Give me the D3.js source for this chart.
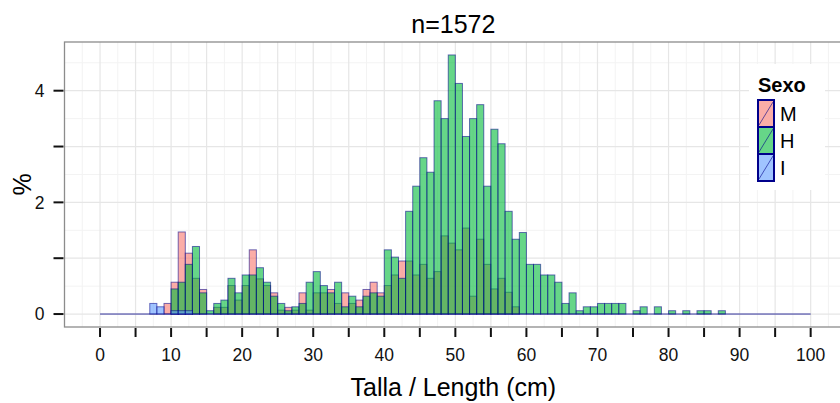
<!DOCTYPE html>
<html>
<head>
<meta charset="utf-8">
<script src="https://cdn.jsdelivr.net/npm/d3@7"></script>
<style>
  html, body { margin: 0; padding: 0; background: #fff; }
  svg { display: block; font-family: "Liberation Sans", Arial, sans-serif; }
</style>
</head>
<body>
<svg id="chart" width="840" height="403"></svg>
<script>
// ---- data (percent of n = 1572, 1 cm bins starting at 0..99) ----
const title = "n=1572";
const xLabel = "Talla / Length (cm)";
const yLabel = "%";
const legendTitle = "Sexo";
const seriesNames = ["M", "H", "I"];
const seriesColors = ["#F8766D", "#00BA38", "#619CFF"];
const binStarts = d3.range(0, 100);

const valuesM = [
  0,0,0,0,0,0,0,0,0,0.19,
  0.57,1.47,1.09,0.64,0.44,0,0.12,0.12,0.51,0.25,
  0.51,1.15,0.63,0.51,0.38,0.07,0.12,0.07,0.38,0.07,
  0.38,0.38,0.44,0.19,0.38,0.19,0.25,0.44,0.57,0.38,
  0.51,0.70,0.95,0.95,0.70,0.89,0.64,0.76,1.40,1.27,
  1.15,1.54,0.32,1.34,0.89,0.45,0.64,0.39,0.13,0,
  0,0,0,0,0,0,0,0,0,0,
  0,0,0,0,0,0,0,0,0,0,
  0,0,0,0,0,0,0,0,0,0,
  0,0,0,0,0,0,0,0,0,0
];
const valuesH = [
  0,0,0,0,0,0,0,0,0,0,
  0.45,0.57,0.89,1.21,0.38,0.06,0.19,0.25,0.64,0.38,
  0.70,0.70,0.83,0.57,0.32,0.19,0.06,0.13,0.19,0.57,
  0.76,0.51,0.38,0.57,0.13,0.32,0.13,0.32,0.38,0.32,
  1.15,1.02,0.64,1.84,2.29,2.80,2.54,3.82,3.50,4.64,
  4.13,3.18,3.50,3.75,2.29,3.31,3.05,1.84,1.34,1.46,
  0.89,0.89,0.70,0.70,0.57,0.19,0.38,0.06,0.13,0.13,
  0.19,0.19,0.19,0.19,0,0.06,0.13,0,0.13,0,
  0.06,0,0.06,0,0.06,0.06,0,0.06,0,0,
  0,0,0,0,0,0,0,0,0,0
];
const valuesI = [
  0,0,0,0,0,0,0,0.19,0.13,0,
  0.06,0.06,0.06,0,0,0,0,0,0,0,
  0,0,0,0,0,0,0,0,0,0,
  0,0,0,0,0,0,0,0,0,0,
  0,0,0,0,0,0,0,0,0,0,
  0,0,0,0,0,0,0,0,0,0,
  0,0,0,0,0,0,0,0,0,0,
  0,0,0,0,0,0,0,0,0,0,
  0,0,0,0,0,0,0,0,0,0,
  0,0,0,0,0,0,0,0,0,0
];
const xTickValues = d3.range(0, 101, 5);
const xTickLabels = d3.range(0, 101, 10);
const yTickValues = [0, 1, 2, 3, 4];
const yTickLabels = [0, 2, 4];

const seriesValues = [valuesM, valuesH, valuesI];

// ---- layout ----
const svg = d3.select("#chart");
const panel = { left: 64.5, right: 846.2, top: 42, bottom: 327 };
const x = d3.scaleLinear().domain([-5, 105]).range([panel.left, panel.right]);
const yMax = d3.max(valuesH);
const pad = yMax * 0.05;
const y = d3.scaleLinear().domain([-pad, yMax + pad]).range([panel.bottom, panel.top]);

const outline = "#00008B";
const fillOpacity = 0.6;

// panel background
svg.append("rect")
  .attr("x", panel.left).attr("y", panel.top)
  .attr("width", panel.right - panel.left).attr("height", panel.bottom - panel.top)
  .attr("fill", "#fff");

const grid = svg.append("g");
// minor grid
const xMinor = d3.range(-2.5, 105, 5);
const yMinor = d3.range(-0.5, 5, 1).map(d => d + 0); // half-steps
grid.selectAll("line.xminor").data(xMinor).enter().append("line")
  .attr("x1", d => x(d)).attr("x2", d => x(d))
  .attr("y1", panel.top).attr("y2", panel.bottom)
  .attr("stroke", "#F3F3F3").attr("stroke-width", 1);
grid.selectAll("line.yminor").data(d3.range(0.5, 5, 1)).enter().append("line")
  .attr("x1", panel.left).attr("x2", panel.right)
  .attr("y1", d => y(d)).attr("y2", d => y(d))
  .attr("stroke", "#F3F3F3").attr("stroke-width", 1);
// major grid
grid.selectAll("line.xmajor").data(xTickValues).enter().append("line")
  .attr("x1", d => x(d)).attr("x2", d => x(d))
  .attr("y1", panel.top).attr("y2", panel.bottom)
  .attr("stroke", "#E6E6E6").attr("stroke-width", 1.2);
grid.selectAll("line.ymajor").data(yTickValues).enter().append("line")
  .attr("x1", panel.left).attr("x2", panel.right)
  .attr("y1", d => y(d)).attr("y2", d => y(d))
  .attr("stroke", "#E6E6E6").attr("stroke-width", 1.2);

// bars
const barsG = svg.append("g");
seriesValues.forEach((vals, si) => {
  const g = barsG.append("g");
  const data = binStarts.map((b, i) => ({ b, v: vals[i] }));
  g.selectAll("rect").data(data.filter(d => d.v > 0)).enter().append("rect")
    .attr("x", d => x(d.b))
    .attr("width", d => x(d.b + 1) - x(d.b))
    .attr("y", d => y(d.v))
    .attr("height", d => y(0) - y(d.v))
    .attr("fill", seriesColors[si])
    .attr("fill-opacity", fillOpacity)
    .attr("stroke", outline)
    .attr("stroke-opacity", 0.55)
    .attr("stroke-width", 1);
  // zero-height bins show as a baseline outline
  g.append("line")
    .attr("x1", x(binStarts[0])).attr("x2", x(binStarts[binStarts.length - 1] + 1))
    .attr("y1", y(0)).attr("y2", y(0))
    .attr("stroke", outline).attr("stroke-opacity", 0.3).attr("stroke-width", 1);
});

// panel border
svg.append("rect")
  .attr("x", panel.left).attr("y", panel.top)
  .attr("width", panel.right - panel.left).attr("height", panel.bottom - panel.top)
  .attr("fill", "none").attr("stroke", "#8C8C8C").attr("stroke-width", 1.3);

// x axis ticks
const xAxis = svg.append("g");
xAxis.selectAll("line").data(xTickValues).enter().append("line")
  .attr("x1", d => x(d)).attr("x2", d => x(d))
  .attr("y1", panel.bottom + 1).attr("y2", panel.bottom + 10)
  .attr("stroke", "#111").attr("stroke-width", 2);
xAxis.selectAll("text").data(xTickLabels).enter().append("text")
  .attr("x", d => x(d)).attr("y", 361)
  .attr("text-anchor", "middle")
  .attr("font-size", 17.5).attr("fill", "#111")
  .text(d => d);

// y axis ticks
const yAxis = svg.append("g");
yAxis.selectAll("line").data(yTickValues).enter().append("line")
  .attr("x1", panel.left - 11).attr("x2", panel.left - 1)
  .attr("y1", d => y(d)).attr("y2", d => y(d))
  .attr("stroke", "#111").attr("stroke-width", 2);
yAxis.selectAll("text").data(yTickLabels).enter().append("text")
  .attr("x", panel.left - 20).attr("y", d => y(d))
  .attr("dy", "0.36em")
  .attr("text-anchor", "end")
  .attr("font-size", 17.5).attr("fill", "#111")
  .text(d => d);

// titles
const cx = (panel.left + panel.right) / 2;
svg.append("text").attr("x", cx - 2).attr("y", 33)
  .attr("text-anchor", "middle").attr("font-size", 25).attr("fill", "#000")
  .text(title);
svg.append("text").attr("x", cx - 2).attr("y", 396)
  .attr("text-anchor", "middle").attr("font-size", 25).attr("fill", "#000")
  .text(xLabel);
svg.append("text")
  .attr("transform", `translate(31,${(panel.top + panel.bottom) / 2}) rotate(-90)`)
  .attr("text-anchor", "middle").attr("font-size", 25).attr("fill", "#000")
  .text(yLabel);

// legend
const lg = svg.append("g").attr("transform", "translate(749,64)");
lg.append("rect").attr("x", 0).attr("y", 0).attr("width", 76).attr("height", 126).attr("fill", "#fff");
lg.append("text").attr("x", 9).attr("y", 28)
  .attr("font-size", 20).attr("font-weight", "bold").attr("fill", "#000")
  .text(legendTitle);
const keyW = 16, keyH = 27, keyX = 9, keyY = 36;
seriesNames.forEach((name, i) => {
  const ky = keyY + i * keyH;
  lg.append("rect").attr("x", keyX).attr("y", ky).attr("width", keyW).attr("height", keyH)
    .attr("fill", "#fff");
  lg.append("rect").attr("x", keyX).attr("y", ky).attr("width", keyW).attr("height", keyH)
    .attr("fill", seriesColors[i]).attr("fill-opacity", fillOpacity)
    .attr("stroke", outline).attr("stroke-width", 2);
  lg.append("line")
    .attr("x1", keyX + 1).attr("y1", ky + keyH - 2)
    .attr("x2", keyX + keyW - 1).attr("y2", ky + 2)
    .attr("stroke", outline).attr("stroke-opacity", 0.6).attr("stroke-width", 1);
  lg.append("text").attr("x", keyX + keyW + 6).attr("y", ky + keyH / 2)
    .attr("dy", "0.36em").attr("font-size", 20).attr("fill", "#000")
    .text(name);
});
</script>
</body>
</html>
